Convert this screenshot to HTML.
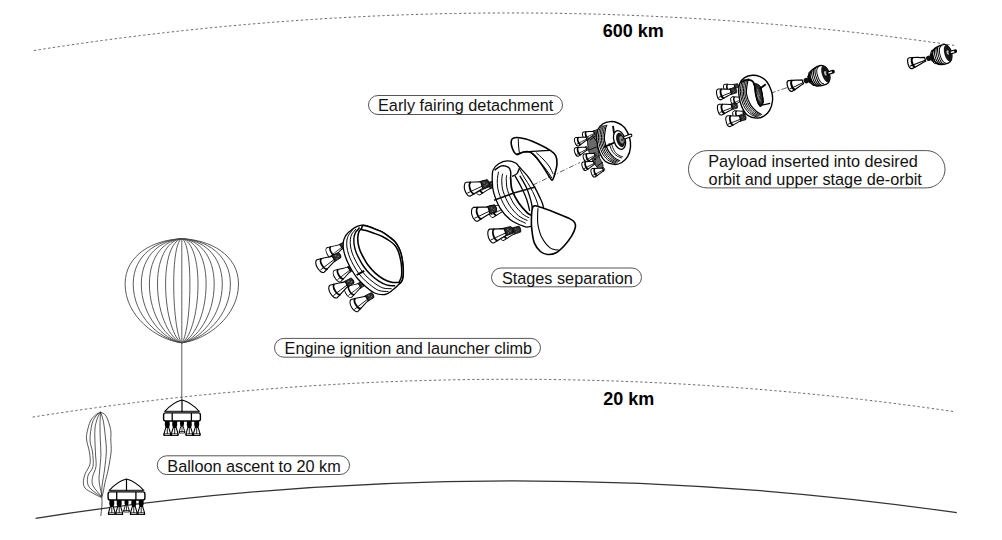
<!DOCTYPE html>
<html><head><meta charset="utf-8">
<style>
html,body{margin:0;padding:0;background:#fff;overflow:hidden;width:1002px;height:540px;}
svg{display:block;}
.t{font-family:"Liberation Sans",sans-serif;font-size:16.25px;fill:#111;}
.b{font-family:"Liberation Sans",sans-serif;font-size:18px;font-weight:bold;fill:#000;}
.box{fill:none;stroke:#555;stroke-width:1;}
.dash{fill:none;stroke:#666;stroke-width:1;stroke-dasharray:2.4 2.4;}
.ln{fill:none;stroke:#000;stroke-width:1;stroke-linejoin:round;stroke-linecap:round;}
</style></head><body>
<svg width="1002" height="540" viewBox="0 0 1002 540">
<rect width="1002" height="540" fill="#fff"/>
<path class="dash" d="M33.8,50.54 A3047.9,3047.9 0 0 1 956.7,45.74"/>
<path class="dash" d="M32.6,417.10 A3046.4,3046.4 0 0 1 954.4,411.66"/>
<path fill="none" stroke="#333" stroke-width="1.25" d="M35.6,518.28 A3093.8,3093.8 0 0 1 956.8,512.70"/>
<g fill="none" stroke="#4a4a4a" stroke-width="0.9">
<path d="M181.8,238.8 C153.45,239.60 125.10,254.80 125.10,284 C125.10,316.00 156.29,339.80 181.8,342.8"/>
<path d="M181.8,238.8 C157.50,239.60 133.20,254.80 133.20,284 C133.20,316.00 159.93,339.80 181.8,342.8"/>
<path d="M181.8,238.8 C161.55,239.60 141.30,254.80 141.30,284 C141.30,316.00 163.58,339.80 181.8,342.8"/>
<path d="M181.8,238.8 C165.60,239.60 149.40,254.80 149.40,284 C149.40,316.00 167.22,339.80 181.8,342.8"/>
<path d="M181.8,238.8 C169.65,239.60 157.50,254.80 157.50,284 C157.50,316.00 170.87,339.80 181.8,342.8"/>
<path d="M181.8,238.8 C173.70,239.60 165.60,254.80 165.60,284 C165.60,316.00 174.51,339.80 181.8,342.8"/>
<path d="M181.8,238.8 C177.75,239.60 173.70,254.80 173.70,284 C173.70,316.00 178.16,339.80 181.8,342.8"/>
<path d="M181.8,238.8 C181.80,239.60 181.80,254.80 181.80,284 C181.80,316.00 181.80,339.80 181.8,342.8"/>
<path d="M181.8,238.8 C185.85,239.60 189.90,254.80 189.90,284 C189.90,316.00 185.45,339.80 181.8,342.8"/>
<path d="M181.8,238.8 C189.90,239.60 198.00,254.80 198.00,284 C198.00,316.00 189.09,339.80 181.8,342.8"/>
<path d="M181.8,238.8 C193.95,239.60 206.10,254.80 206.10,284 C206.10,316.00 192.74,339.80 181.8,342.8"/>
<path d="M181.8,238.8 C198.00,239.60 214.20,254.80 214.20,284 C214.20,316.00 196.38,339.80 181.8,342.8"/>
<path d="M181.8,238.8 C202.05,239.60 222.30,254.80 222.30,284 C222.30,316.00 200.03,339.80 181.8,342.8"/>
<path d="M181.8,238.8 C206.10,239.60 230.40,254.80 230.40,284 C230.40,316.00 203.67,339.80 181.8,342.8"/>
<path d="M181.8,238.8 C210.15,239.60 238.50,254.80 238.50,284 C238.50,316.00 207.31,339.80 181.8,342.8"/>
<path d="M181.8,342.8 V400" stroke-width="0.9"/>
</g>
<g fill="none" stroke="#222" stroke-width="0.75">
<path d="M100.6,412.1 C99.8,412.6 97.2,413.5 95.5,415.0 C93.8,416.5 91.9,418.2 90.5,421.0 C89.1,423.8 87.9,428.5 87.2,431.7 C86.5,434.9 86.2,436.6 86.6,440.0 C87.0,443.4 88.8,448.0 89.4,452.0 C90.0,456.0 90.7,460.4 90.0,464.0 C89.3,467.6 86.3,470.7 85.2,473.7 C84.1,476.7 83.4,479.8 83.4,482.2 C83.4,484.6 83.7,486.4 85.2,488.2 C86.7,490.0 89.8,491.4 92.5,493.0 C95.2,494.6 100.0,496.8 101.5,497.5"/>
<path d="M100.6,412.1 C99.8,412.8 97.4,414.0 96.0,416.0 C94.6,418.0 93.0,420.0 92.0,424.0 C91.0,428.0 89.9,435.3 90.0,440.0 C90.1,444.7 92.0,447.6 92.5,452.0 C93.0,456.4 93.7,462.7 93.0,466.5 C92.3,470.3 89.1,472.2 88.2,475.0 C87.3,477.8 87.1,481.0 87.6,483.4 C88.1,485.8 89.0,487.1 91.3,489.4 C93.6,491.7 99.8,495.7 101.5,497.0"/>
<path d="M100.6,412.1 C100.1,413.1 98.4,415.4 97.5,418.0 C96.6,420.6 95.4,424.3 95.0,428.0 C94.6,431.7 94.8,435.7 94.9,440.0 C95.0,444.3 95.3,449.6 95.5,454.0 C95.7,458.4 96.5,462.6 96.0,466.5 C95.5,470.4 93.0,474.1 92.5,477.3 C92.0,480.5 91.5,482.6 93.0,485.8 C94.5,489.0 100.1,494.7 101.5,496.5"/>
<path d="M100.6,412.1 C100.5,414.2 100.0,420.4 100.0,425.0 C100.0,429.6 100.1,435.1 100.3,440.0 C100.5,444.9 101.0,449.5 100.9,454.5 C100.8,459.5 100.0,465.6 99.7,470.0 C99.4,474.4 98.8,477.0 99.1,481.0 C99.4,485.0 101.0,491.6 101.5,494.2 C102.0,496.8 101.8,496.1 101.8,496.5"/>
<path d="M100.6,412.1 C101.1,413.8 102.7,417.4 103.5,422.0 C104.3,426.6 105.2,435.0 105.7,440.0 C106.2,445.0 106.5,447.0 106.3,452.0 C106.1,457.0 105.2,464.4 104.5,470.0 C103.8,475.6 102.5,481.4 102.1,485.8 C101.6,490.2 101.8,494.7 101.8,496.5"/>
<path d="M100.6,412.1 C101.5,412.8 104.4,413.2 106.1,416.1 C107.8,419.0 109.8,425.4 110.6,429.4 C111.4,433.4 110.7,436.2 110.8,440.0 C110.9,443.8 111.5,447.0 111.1,452.0 C110.6,457.0 109.1,465.0 108.1,470.0 C107.1,475.0 105.9,478.6 105.1,482.2 C104.3,485.8 103.8,489.3 103.3,491.8 C102.8,494.3 102.0,496.1 101.8,497.0"/>
<path d="M101.8,497 C102.5,503 101.5,510 100.8,516"/>
</g>
<defs>
<g id="nz">
<path d="M-2.3,0 L2.3,0 L2.5,4 Q2.4,7.2 0,7.6 Q-2.4,7.2 -2.5,4Z" fill="#000"/>
<path d="M-1.4,7 L-3.5,14 H3.5 L1.4,7 Z" fill="#fff" stroke="#000" stroke-width="1.1" stroke-linejoin="round"/>
<path d="M0,7.5 V13.5" stroke="#000" stroke-width="0.9"/>
<rect x="-3.8" y="13.2" width="7.6" height="2.4" fill="#000"/>
<rect x="-2.6" y="13.9" width="5.2" height="0.8" fill="#fff"/>
</g>
<g id="gond">
<use href="#nz" x="-14.7" y="20.4"/>
<use href="#nz" x="14.7" y="20.4"/>
<g transform="translate(0,20.6) scale(0.82)"><use href="#nz"/></g>
<use href="#nz" x="-7.3" y="20.4"/>
<use href="#nz" x="7.3" y="20.4"/>
<path d="M-16.9,11.2 Q-9,2.2 0,0 Q9,2.2 16.9,11.2" fill="#fff" stroke="#000" stroke-width="1.1"/>
<path d="M0,0 V12" stroke="#000" stroke-width="1.2"/>
<path d="M-17.8,11.3 H17.8" stroke="#000" stroke-width="1.0"/>
<rect x="-18.4" y="12.9" width="36.8" height="8.1" rx="2" fill="#fff" stroke="#000" stroke-width="1.4"/>
<path d="M-9.8,12.9 V21 M9.4,12.9 V21" stroke="#000" stroke-width="1.3"/>
</g>
</defs>
<use href="#gond" x="182" y="400"/>
<use href="#gond" x="126.5" y="479"/>
<g transform="translate(330.0,253.0) rotate(-30.0) scale(0.85)"><path d="M14,-3.3000000000000003 L22,-2.9000000000000004 Q24,0 22,2.9000000000000004 L14,3.3000000000000003Z" fill="#2a2a2a" stroke="#000" stroke-width="0.8"/><path d="M17.4,-1.8 l1.5,1 M19.4,1.2 l1.5,-1 M17.4,1.8 l1,0.4" stroke="#bbb" stroke-width="0.6"/><path d="M0,-7.2 C5.625,-6 11.25,-3.5 15,-2.7 L15,2.7 C11.25,3.5 5.625,6 0,7.2 A3.6,7.2 0 0 1 0,-7.2Z" fill="#fff" stroke="#000" stroke-width="1.10" stroke-linejoin="round"/><path d="M4.5,-5.9 A2.8,5.9 0 0 0 4.5,5.9" fill="none" stroke="#000" stroke-width="1.87"/><path d="M-2.2,3.5 C4,2.7 9.0,1.8 15,1.2" fill="none" stroke="#000" stroke-width="0.83"/></g>
<g transform="translate(337.5,276.0) rotate(-30.0) scale(0.90)"><path d="M14,-3.3000000000000003 L22,-2.9000000000000004 Q24,0 22,2.9000000000000004 L14,3.3000000000000003Z" fill="#2a2a2a" stroke="#000" stroke-width="0.8"/><path d="M17.4,-1.8 l1.5,1 M19.4,1.2 l1.5,-1 M17.4,1.8 l1,0.4" stroke="#bbb" stroke-width="0.6"/><path d="M0,-7.2 C5.625,-6 11.25,-3.5 15,-2.7 L15,2.7 C11.25,3.5 5.625,6 0,7.2 A3.6,7.2 0 0 1 0,-7.2Z" fill="#fff" stroke="#000" stroke-width="1.10" stroke-linejoin="round"/><path d="M4.5,-5.9 A2.8,5.9 0 0 0 4.5,5.9" fill="none" stroke="#000" stroke-width="1.87"/><path d="M-2.2,3.5 C4,2.7 9.0,1.8 15,1.2" fill="none" stroke="#000" stroke-width="0.83"/></g>
<g transform="translate(348.5,292.0) rotate(-30.0) scale(0.85)"><path d="M14,-3.3000000000000003 L22,-2.9000000000000004 Q24,0 22,2.9000000000000004 L14,3.3000000000000003Z" fill="#2a2a2a" stroke="#000" stroke-width="0.8"/><path d="M17.4,-1.8 l1.5,1 M19.4,1.2 l1.5,-1 M17.4,1.8 l1,0.4" stroke="#bbb" stroke-width="0.6"/><path d="M0,-7.2 C5.625,-6 11.25,-3.5 15,-2.7 L15,2.7 C11.25,3.5 5.625,6 0,7.2 A3.6,7.2 0 0 1 0,-7.2Z" fill="#fff" stroke="#000" stroke-width="1.10" stroke-linejoin="round"/><path d="M4.5,-5.9 A2.8,5.9 0 0 0 4.5,5.9" fill="none" stroke="#000" stroke-width="1.87"/><path d="M-2.2,3.5 C4,2.7 9.0,1.8 15,1.2" fill="none" stroke="#000" stroke-width="0.83"/></g>
<g transform="translate(320.5,266.0) rotate(-30.0) scale(1.00)"><path d="M14,-3.3000000000000003 L22,-2.9000000000000004 Q24,0 22,2.9000000000000004 L14,3.3000000000000003Z" fill="#2a2a2a" stroke="#000" stroke-width="0.8"/><path d="M17.4,-1.8 l1.5,1 M19.4,1.2 l1.5,-1 M17.4,1.8 l1,0.4" stroke="#bbb" stroke-width="0.6"/><path d="M0,-7.2 C5.625,-6 11.25,-3.5 15,-2.7 L15,2.7 C11.25,3.5 5.625,6 0,7.2 A3.6,7.2 0 0 1 0,-7.2Z" fill="#fff" stroke="#000" stroke-width="1.10" stroke-linejoin="round"/><path d="M4.5,-5.9 A2.8,5.9 0 0 0 4.5,5.9" fill="none" stroke="#000" stroke-width="1.87"/><path d="M-2.2,3.5 C4,2.7 9.0,1.8 15,1.2" fill="none" stroke="#000" stroke-width="0.83"/></g>
<g transform="translate(333.5,291.5) rotate(-30.0) scale(1.00)"><path d="M14,-3.3000000000000003 L22,-2.9000000000000004 Q24,0 22,2.9000000000000004 L14,3.3000000000000003Z" fill="#2a2a2a" stroke="#000" stroke-width="0.8"/><path d="M17.4,-1.8 l1.5,1 M19.4,1.2 l1.5,-1 M17.4,1.8 l1,0.4" stroke="#bbb" stroke-width="0.6"/><path d="M0,-7.2 C5.625,-6 11.25,-3.5 15,-2.7 L15,2.7 C11.25,3.5 5.625,6 0,7.2 A3.6,7.2 0 0 1 0,-7.2Z" fill="#fff" stroke="#000" stroke-width="1.10" stroke-linejoin="round"/><path d="M4.5,-5.9 A2.8,5.9 0 0 0 4.5,5.9" fill="none" stroke="#000" stroke-width="1.87"/><path d="M-2.2,3.5 C4,2.7 9.0,1.8 15,1.2" fill="none" stroke="#000" stroke-width="0.83"/></g>
<g transform="translate(354.5,305.5) rotate(-30.0) scale(0.95)"><path d="M14,-3.3000000000000003 L22,-2.9000000000000004 Q24,0 22,2.9000000000000004 L14,3.3000000000000003Z" fill="#2a2a2a" stroke="#000" stroke-width="0.8"/><path d="M17.4,-1.8 l1.5,1 M19.4,1.2 l1.5,-1 M17.4,1.8 l1,0.4" stroke="#bbb" stroke-width="0.6"/><path d="M0,-7.2 C5.625,-6 11.25,-3.5 15,-2.7 L15,2.7 C11.25,3.5 5.625,6 0,7.2 A3.6,7.2 0 0 1 0,-7.2Z" fill="#fff" stroke="#000" stroke-width="1.10" stroke-linejoin="round"/><path d="M4.5,-5.9 A2.8,5.9 0 0 0 4.5,5.9" fill="none" stroke="#000" stroke-width="1.87"/><path d="M-2.2,3.5 C4,2.7 9.0,1.8 15,1.2" fill="none" stroke="#000" stroke-width="0.83"/></g>
<path d="M347.0,234.0 C346.4,234.7 345.8,235.3 345.2,236.5 C344.6,237.7 343.8,239.1 343.5,241.0 C343.2,242.9 343.1,245.6 343.3,248.0 C343.6,250.4 344.2,253.0 345.0,255.5 C345.8,258.0 346.8,260.5 348.0,263.0 C349.2,265.5 350.4,267.9 352.0,270.5 C353.6,273.1 355.3,275.9 357.5,278.5 C359.7,281.1 362.2,283.6 365.0,286.0 C367.8,288.4 371.2,291.6 374.5,293.0 C377.8,294.4 382.1,294.9 385.0,294.5 C387.9,294.1 389.2,292.7 391.7,290.8 C394.2,288.9 398.2,285.2 400.0,283.3 C401.8,281.4 401.9,281.1 402.5,279.2 C403.1,277.3 403.3,274.7 403.3,271.7 C403.3,268.7 402.9,264.0 402.5,261.0 C402.1,258.0 401.6,255.8 401.0,253.6 C400.4,251.4 399.7,249.7 398.7,247.7 C397.7,245.7 396.5,243.4 395.0,241.7 C393.5,240.0 391.9,238.9 389.8,237.3 C387.7,235.7 384.9,233.5 382.4,232.1 C379.9,230.7 377.1,230.0 375.0,229.1 C372.9,228.2 371.7,227.5 369.7,226.9 C367.7,226.3 364.6,225.7 363.1,225.4 C361.6,225.2 362.2,225.0 360.8,225.4 C359.4,225.8 356.8,226.5 354.8,227.6 C352.8,228.7 350.2,231.0 348.9,232.1 C347.6,233.2 347.6,233.3 347.0,234.0Z" fill="#fff" stroke="#000" stroke-width="1.3"/>
<path d="M359.6,227.5 C359.3,227.9 358.3,229.1 357.6,230.0 C356.9,230.9 355.9,231.5 355.3,232.9 C354.7,234.2 354.1,236.3 353.9,238.3 C353.8,240.3 353.8,242.7 354.2,245.0 C354.5,247.3 355.1,249.7 356.0,251.9 C356.8,254.2 357.8,256.2 359.1,258.6 C360.4,261.0 361.8,263.9 363.7,266.5 C365.5,269.1 367.8,271.9 370.3,274.3 C372.7,276.7 375.6,279.1 378.4,280.9 C381.2,282.7 384.2,284.4 387.1,285.2 C389.9,286.0 393.9,285.6 395.2,285.7" fill="none" stroke="#000" stroke-width="1.4"/>
<path d="M356.0,229.0 C355.6,229.4 354.6,230.5 354.0,231.4 C353.3,232.2 352.4,232.8 351.8,234.1 C351.2,235.4 350.6,237.2 350.4,239.2 C350.1,241.2 350.1,243.7 350.5,246.0 C350.8,248.4 351.4,250.8 352.2,253.1 C353.0,255.5 354.0,257.7 355.3,260.1 C356.5,262.6 357.9,265.3 359.7,267.9 C361.4,270.5 363.5,273.3 365.9,275.8 C368.3,278.2 371.0,280.6 373.8,282.6 C376.6,284.7 379.8,286.8 382.8,287.9 C385.7,288.9 390.2,288.6 391.7,288.7" fill="none" stroke="#000" stroke-width="1.0"/>
<path d="M352.5,230.5 C352.1,230.9 351.1,231.9 350.5,232.7 C349.8,233.5 349.1,234.1 348.5,235.3 C347.9,236.5 347.2,238.2 346.9,240.1 C346.7,242.1 346.6,244.6 346.9,247.0 C347.2,249.4 347.8,251.9 348.6,254.3 C349.4,256.7 350.4,259.1 351.6,261.6 C352.9,264.0 354.2,266.6 355.8,269.2 C357.5,271.8 359.4,274.6 361.7,277.1 C364.0,279.7 366.6,282.1 369.4,284.3 C372.2,286.5 375.5,289.2 378.6,290.4 C381.8,291.6 386.7,291.4 388.4,291.6" fill="none" stroke="#000" stroke-width="1.0"/>
<path d="M361.5,228.5 C360.8,229.5 359.6,230.0 359.0,231.5 C358.4,233.0 357.9,235.2 357.8,237.3 C357.7,239.4 357.8,241.7 358.2,243.9 C358.6,246.1 359.2,248.4 360.0,250.6 C360.8,252.8 361.9,254.6 363.2,257.0 C364.5,259.4 366.0,262.4 368.0,265.0 C370.0,267.6 372.4,270.5 375.0,272.8 C377.6,275.1 380.5,277.4 383.3,279.0 C386.1,280.6 389.1,281.7 391.7,282.3 C394.3,282.9 397.6,282.3 399.0,282.5 C400.4,282.7 399.4,283.9 400.0,283.3 C400.6,282.8 401.9,281.1 402.5,279.2 C403.1,277.3 403.3,274.7 403.3,271.7 C403.3,268.7 402.9,264.0 402.5,261.0 C402.1,258.0 401.6,255.8 401.0,253.6 C400.4,251.4 399.7,249.7 398.7,247.7 C397.7,245.7 396.5,243.4 395.0,241.7 C393.5,240.0 391.9,238.9 389.8,237.3 C387.7,235.7 384.9,233.5 382.4,232.1 C379.9,230.7 377.1,230.0 375.0,229.1 C372.9,228.2 371.7,227.5 369.7,226.9 C367.7,226.3 364.5,225.1 363.1,225.4 C361.7,225.7 362.2,227.5 361.5,228.5Z" fill="#fff" stroke="#000" stroke-width="1.6"/>
<path d="M361.0,229.5 C362.0,229.7 364.7,230.1 367.0,230.8 C369.3,231.5 372.4,232.7 375.0,233.6 C377.6,234.5 379.9,235.3 382.4,236.5 C384.9,237.7 387.7,239.5 389.8,241.0 C391.9,242.5 393.6,243.8 395.0,245.4 C396.4,247.0 397.1,248.5 398.0,250.6 C398.9,252.7 399.6,255.4 400.2,258.0 C400.8,260.6 401.3,263.0 401.5,266.0 C401.7,269.0 401.9,273.2 401.5,276.0 C401.1,278.8 399.4,281.4 399.0,282.5" fill="none" stroke="#000" stroke-width="1.5"/>
<path d="M356.7,275 L364.2,270.8" stroke="#000" stroke-width="2"/>
<path d="M533,185 L580,162.5" stroke="#333" stroke-width="0.8" stroke-dasharray="5 2 1 2" fill="none"/>
<g transform="translate(478.0,189.0) rotate(-17.0) scale(0.85)"><path d="M13,-4.0 L22,-3.6 Q24,0 22,3.6 L13,4.0Z" fill="#2a2a2a" stroke="#000" stroke-width="0.8"/><path d="M16.7,-1.8 l1.5,1 M18.95,1.2 l1.5,-1 M16.7,1.8 l1,0.4" stroke="#bbb" stroke-width="0.6"/><path d="M0,-7.2 C5.25,-6 10.5,-4.2 14,-3.4 L14,3.4 C10.5,4.2 5.25,6 0,7.2 A3.6,7.2 0 0 1 0,-7.2Z" fill="#fff" stroke="#000" stroke-width="1.10" stroke-linejoin="round"/><path d="M4.5,-5.9 A2.8,5.9 0 0 0 4.5,5.9" fill="none" stroke="#000" stroke-width="1.87"/><path d="M-2.2,3.5 C4,2.7 8.4,1.8 14,1.2" fill="none" stroke="#000" stroke-width="0.83"/></g>
<g transform="translate(491.5,211.5) rotate(-17.0) scale(0.85)"><path d="M13,-4.0 L22,-3.6 Q24,0 22,3.6 L13,4.0Z" fill="#2a2a2a" stroke="#000" stroke-width="0.8"/><path d="M16.7,-1.8 l1.5,1 M18.95,1.2 l1.5,-1 M16.7,1.8 l1,0.4" stroke="#bbb" stroke-width="0.6"/><path d="M0,-7.2 C5.25,-6 10.5,-4.2 14,-3.4 L14,3.4 C10.5,4.2 5.25,6 0,7.2 A3.6,7.2 0 0 1 0,-7.2Z" fill="#fff" stroke="#000" stroke-width="1.10" stroke-linejoin="round"/><path d="M4.5,-5.9 A2.8,5.9 0 0 0 4.5,5.9" fill="none" stroke="#000" stroke-width="1.87"/><path d="M-2.2,3.5 C4,2.7 8.4,1.8 14,1.2" fill="none" stroke="#000" stroke-width="0.83"/></g>
<g transform="translate(502.0,234.5) rotate(-17.0) scale(0.85)"><path d="M13,-4.0 L22,-3.6 Q24,0 22,3.6 L13,4.0Z" fill="#2a2a2a" stroke="#000" stroke-width="0.8"/><path d="M16.7,-1.8 l1.5,1 M18.95,1.2 l1.5,-1 M16.7,1.8 l1,0.4" stroke="#bbb" stroke-width="0.6"/><path d="M0,-7.2 C5.25,-6 10.5,-4.2 14,-3.4 L14,3.4 C10.5,4.2 5.25,6 0,7.2 A3.6,7.2 0 0 1 0,-7.2Z" fill="#fff" stroke="#000" stroke-width="1.10" stroke-linejoin="round"/><path d="M4.5,-5.9 A2.8,5.9 0 0 0 4.5,5.9" fill="none" stroke="#000" stroke-width="1.87"/><path d="M-2.2,3.5 C4,2.7 8.4,1.8 14,1.2" fill="none" stroke="#000" stroke-width="0.83"/></g>
<g transform="translate(468.3,189.2) rotate(-17.0) scale(1.00)"><path d="M13,-4.0 L21,-3.6 Q23,0 21,3.6 L13,4.0Z" fill="#2a2a2a" stroke="#000" stroke-width="0.8"/><path d="M16.4,-1.8 l1.5,1 M18.4,1.2 l1.5,-1 M16.4,1.8 l1,0.4" stroke="#bbb" stroke-width="0.6"/><path d="M0,-7.2 C5.25,-6 10.5,-4.2 14,-3.4 L14,3.4 C10.5,4.2 5.25,6 0,7.2 A3.6,7.2 0 0 1 0,-7.2Z" fill="#fff" stroke="#000" stroke-width="1.10" stroke-linejoin="round"/><path d="M4.5,-5.9 A2.8,5.9 0 0 0 4.5,5.9" fill="none" stroke="#000" stroke-width="1.87"/><path d="M-2.2,3.5 C4,2.7 8.4,1.8 14,1.2" fill="none" stroke="#000" stroke-width="0.83"/></g>
<g transform="translate(475.5,214.3) rotate(-17.0) scale(1.00)"><path d="M13,-4.0 L21,-3.6 Q23,0 21,3.6 L13,4.0Z" fill="#2a2a2a" stroke="#000" stroke-width="0.8"/><path d="M16.4,-1.8 l1.5,1 M18.4,1.2 l1.5,-1 M16.4,1.8 l1,0.4" stroke="#bbb" stroke-width="0.6"/><path d="M0,-7.2 C5.25,-6 10.5,-4.2 14,-3.4 L14,3.4 C10.5,4.2 5.25,6 0,7.2 A3.6,7.2 0 0 1 0,-7.2Z" fill="#fff" stroke="#000" stroke-width="1.10" stroke-linejoin="round"/><path d="M4.5,-5.9 A2.8,5.9 0 0 0 4.5,5.9" fill="none" stroke="#000" stroke-width="1.87"/><path d="M-2.2,3.5 C4,2.7 8.4,1.8 14,1.2" fill="none" stroke="#000" stroke-width="0.83"/></g>
<g transform="translate(491.8,236.0) rotate(-17.0) scale(1.00)"><path d="M13,-4.0 L21,-3.6 Q23,0 21,3.6 L13,4.0Z" fill="#2a2a2a" stroke="#000" stroke-width="0.8"/><path d="M16.4,-1.8 l1.5,1 M18.4,1.2 l1.5,-1 M16.4,1.8 l1,0.4" stroke="#bbb" stroke-width="0.6"/><path d="M0,-7.2 C5.25,-6 10.5,-4.2 14,-3.4 L14,3.4 C10.5,4.2 5.25,6 0,7.2 A3.6,7.2 0 0 1 0,-7.2Z" fill="#fff" stroke="#000" stroke-width="1.10" stroke-linejoin="round"/><path d="M4.5,-5.9 A2.8,5.9 0 0 0 4.5,5.9" fill="none" stroke="#000" stroke-width="1.87"/><path d="M-2.2,3.5 C4,2.7 8.4,1.8 14,1.2" fill="none" stroke="#000" stroke-width="0.83"/></g>
<path d="M507.1,160.9 C509.9,160.8 513.6,162.0 515.6,163.0 C517.6,164.0 517.0,164.5 519.1,166.8 C521.2,169.2 525.6,173.5 528.3,177.1 C531.0,180.7 533.3,184.9 535.3,188.4 C537.3,191.9 538.9,195.5 540.2,198.3 C541.5,201.1 542.4,202.5 543.0,205.3 C543.6,208.1 544.5,211.9 544.0,215.0 C543.5,218.1 542.4,222.1 540.0,224.0 C537.6,225.9 532.4,226.2 529.7,226.6 C527.0,227.0 527.3,227.6 524.0,226.4 C520.7,225.2 514.0,222.5 510.0,219.4 C506.0,216.3 502.8,212.6 500.1,208.1 C497.4,203.6 495.0,197.0 493.7,192.6 C492.4,188.2 492.4,185.2 492.3,181.4 C492.2,177.7 491.9,173.1 493.0,170.1 C494.1,167.1 496.3,165.2 498.7,163.7 C501.1,162.2 504.3,161.0 507.1,160.9Z" fill="#fff" stroke="#000" stroke-width="1.3"/>
<path d="M498.5,171.8 C498.3,173.4 497.3,177.7 497.3,181.1 C497.3,184.4 497.4,187.6 498.6,191.9 C499.9,196.2 502.4,202.5 505.1,206.7 C507.7,210.9 511.0,214.6 514.4,217.3 C517.9,220.1 523.9,222.3 525.8,223.3" fill="none" stroke="#000" stroke-width="1.0"/>
<path d="M502.6,173.6 C502.4,174.8 501.7,177.8 501.8,180.7 C501.9,183.6 501.8,187.1 503.1,191.2 C504.4,195.3 506.9,201.2 509.5,205.3 C512.1,209.4 515.5,213.1 518.5,215.7 C521.5,218.2 526.0,219.8 527.5,220.6" fill="none" stroke="#000" stroke-width="1.0"/>
<path d="M506.6,175.3 C506.5,176.2 506.1,177.8 506.3,180.3 C506.5,182.9 506.3,186.6 507.6,190.5 C508.8,194.4 511.4,200.0 513.9,203.9 C516.5,207.8 520.1,211.6 522.7,214.0 C525.2,216.3 528.2,217.2 529.2,217.9" fill="none" stroke="#000" stroke-width="1.0"/>
<path d="M510.6,177.1 C510.6,177.6 510.6,177.9 510.8,180.0 C511.0,182.1 510.7,186.1 512.0,189.8 C513.3,193.6 515.9,198.8 518.4,202.5 C520.9,206.2 524.7,210.2 526.8,212.3 C528.9,214.4 530.3,214.7 531.0,215.2" fill="none" stroke="#000" stroke-width="1.7"/>
<path d="M514.9,175.7 C516.0,177.6 519.2,183.0 521.2,187.0 C523.2,191.0 525.4,195.7 526.8,199.7 C528.2,203.7 529.2,209.0 529.7,210.9" fill="none" stroke="#000" stroke-width="1.3"/>
<path d="M519.8,175.7 C521.0,177.8 524.9,184.2 526.8,188.4 C528.7,192.6 530.0,197.6 531.0,201.1 C532.0,204.6 532.2,208.1 532.5,209.5" fill="none" stroke="#000" stroke-width="1.3"/>
<path d="M519.0,168.0 C519.8,169.5 522.0,173.7 524.0,177.1 C526.0,180.5 528.9,184.4 531.0,188.4 C533.1,192.4 535.4,197.4 536.7,201.0 C538.0,204.6 538.6,208.5 539.0,210.0" fill="none" stroke="#000" stroke-width="1.0"/>
<path d="M494.5,170.1 C495.7,169.4 499.2,166.4 501.5,165.9 C503.8,165.4 507.0,166.4 508.5,167.3 C510.0,168.2 510.2,169.9 510.6,171.5 C511.0,173.1 510.6,176.2 510.6,177.1" fill="none" stroke="#000" stroke-width="1.4"/>
<path d="M519.1,168.7 C518.8,169.5 518.2,172.3 517.0,173.6 C515.8,174.9 512.8,175.9 512.0,176.4" fill="none" stroke="#000" stroke-width="1.4"/>
<path d="M494,200.3 L514.6,192.8 L535.4,186.9" stroke="#111" stroke-width="1.6" fill="none"/>
<path d="M511.7,139.7 C512.5,137.9 514.5,137.6 516.9,137.5 C519.3,137.4 522.2,138.0 525.9,139.1 C529.6,140.2 534.8,142.4 538.9,144.3 C543.0,146.2 547.8,148.8 550.6,150.7 C553.4,152.6 554.7,153.7 555.8,155.9 C556.9,158.1 557.1,160.9 557.0,163.7 C556.9,166.5 555.9,170.1 555.1,172.8 C554.4,175.5 553.5,179.2 552.5,179.9 C551.5,180.6 550.9,179.0 549.3,176.7 C547.7,174.4 545.2,169.8 542.8,166.3 C540.4,162.8 537.2,158.3 535.0,155.9 C532.8,153.5 531.8,152.7 529.8,152.0 C527.8,151.3 525.4,151.6 523.3,152.0 C521.1,152.4 518.7,155.2 516.9,154.6 C515.1,154.0 513.2,150.7 512.3,148.2 C511.4,145.7 510.9,141.5 511.7,139.7Z" fill="#fff" stroke="#000" stroke-width="1.6"/>
<path d="M518.2,138.4 C518.3,139.7 518.4,143.5 518.6,146.0 C518.8,148.5 519.3,152.1 519.4,153.3" fill="none" stroke="#000" stroke-width="1.0"/>
<path d="M516.9,154.0 C518.1,153.7 521.4,152.4 524.0,152.0 C526.6,151.6 529.6,151.6 532.4,151.4 C535.2,151.2 538.0,151.0 541.0,150.8 C544.0,150.7 549.0,150.6 550.6,150.5" fill="none" stroke="#000" stroke-width="1.2"/>
<path d="M531.1,152.7 C532.2,153.9 535.7,157.4 538.0,160.0 C540.3,162.6 542.7,165.0 545.0,168.0 C547.3,171.0 550.8,176.3 551.9,178.0" fill="none" stroke="#000" stroke-width="1.0"/>
<path d="M536.3,152.7 C537.4,153.8 540.9,156.8 543.0,159.0 C545.1,161.2 547.3,163.5 549.0,166.0 C550.7,168.5 552.5,172.8 553.2,174.1" fill="none" stroke="#000" stroke-width="1.0"/>
<path d="M533.2,206.4 C534.9,204.5 537.8,206.5 541.6,207.6 C545.4,208.7 551.3,211.1 556.1,213.0 C560.9,214.9 567.4,217.5 570.5,219.1 C573.6,220.7 573.9,221.3 574.7,222.7 C575.5,224.1 575.8,225.3 575.3,227.5 C574.8,229.7 573.5,232.9 571.7,235.9 C569.9,238.9 567.1,242.7 564.5,245.5 C561.9,248.3 558.9,251.2 556.1,252.7 C553.3,254.2 550.3,254.7 547.7,254.5 C545.1,254.3 542.6,253.4 540.4,251.5 C538.2,249.6 535.8,246.5 534.4,243.1 C533.0,239.7 532.5,235.1 532.0,231.1 C531.5,227.1 531.2,223.2 531.4,219.1 C531.6,215.0 531.5,208.3 533.2,206.4Z" fill="#fff" stroke="#000" stroke-width="1.6"/>
<path d="M538.0,208.2 C537.9,209.5 537.6,213.2 537.6,216.0 C537.6,218.8 537.3,221.6 538.0,225.1 C538.7,228.6 539.6,233.3 541.6,237.1 C543.6,240.9 547.1,245.7 550.1,247.9 C553.1,250.1 558.1,249.9 559.7,250.3" fill="none" stroke="#000" stroke-width="1.1"/>
<path d="M588.0,136.0 C589.2,132.3 594.2,130.8 596.0,130.0 C597.8,129.2 598.7,129.0 599.0,131.0 C599.3,133.0 598.0,137.8 598.0,142.0 C598.0,146.2 598.2,152.2 599.0,156.0 C599.8,159.8 602.7,162.8 603.0,165.0 C603.3,167.2 602.2,168.8 601.0,169.0 C599.8,169.2 598.0,168.8 596.0,166.0 C594.0,163.2 590.3,157.0 589.0,152.0 C587.7,147.0 586.8,139.7 588.0,136.0Z" fill="#6a6a6a" stroke="#000" stroke-width="0.8"/>
<path d="M590,140 L598,134 M589,150 L599,146 M594,160 L601,154 M596,167 L603,162 M592,135 L597,142 M590,155 L596,160" stroke="#000" stroke-width="0.9"/>
<g transform="translate(585.0,136.0) rotate(-20.0) scale(0.60)"><path d="M15,-3.2 L18,-2.8000000000000003 Q20,0 18,2.8000000000000003 L15,3.2Z" fill="#2a2a2a" stroke="#000" stroke-width="0.8"/><path d="M16.9,-1.8 l1.5,1 M17.65,1.2 l1.5,-1 M16.9,1.8 l1,0.4" stroke="#bbb" stroke-width="0.6"/><path d="M0,-7.2 C6.0,-6 12.0,-3.4000000000000004 16,-2.6 L16,2.6 C12.0,3.4000000000000004 6.0,6 0,7.2 A3.6,7.2 0 0 1 0,-7.2Z" fill="#fff" stroke="#000" stroke-width="1.60" stroke-linejoin="round"/><path d="M4.5,-5.9 A2.8,5.9 0 0 0 4.5,5.9" fill="none" stroke="#000" stroke-width="2.72"/><path d="M-2.2,3.5 C4,2.7 9.6,1.8 16,1.2" fill="none" stroke="#000" stroke-width="1.20"/></g>
<g transform="translate(585.7,158.0) rotate(-20.0) scale(0.60)"><path d="M15,-3.2 L18,-2.8000000000000003 Q20,0 18,2.8000000000000003 L15,3.2Z" fill="#2a2a2a" stroke="#000" stroke-width="0.8"/><path d="M16.9,-1.8 l1.5,1 M17.65,1.2 l1.5,-1 M16.9,1.8 l1,0.4" stroke="#bbb" stroke-width="0.6"/><path d="M0,-7.2 C6.0,-6 12.0,-3.4000000000000004 16,-2.6 L16,2.6 C12.0,3.4000000000000004 6.0,6 0,7.2 A3.6,7.2 0 0 1 0,-7.2Z" fill="#fff" stroke="#000" stroke-width="1.60" stroke-linejoin="round"/><path d="M4.5,-5.9 A2.8,5.9 0 0 0 4.5,5.9" fill="none" stroke="#000" stroke-width="2.72"/><path d="M-2.2,3.5 C4,2.7 9.6,1.8 16,1.2" fill="none" stroke="#000" stroke-width="1.20"/></g>
<g transform="translate(593.6,172.8) rotate(-20.0) scale(0.62)"><path d="M15,-3.2 L18,-2.8000000000000003 Q20,0 18,2.8000000000000003 L15,3.2Z" fill="#2a2a2a" stroke="#000" stroke-width="0.8"/><path d="M16.9,-1.8 l1.5,1 M17.65,1.2 l1.5,-1 M16.9,1.8 l1,0.4" stroke="#bbb" stroke-width="0.6"/><path d="M0,-7.2 C6.0,-6 12.0,-3.4000000000000004 16,-2.6 L16,2.6 C12.0,3.4000000000000004 6.0,6 0,7.2 A3.6,7.2 0 0 1 0,-7.2Z" fill="#fff" stroke="#000" stroke-width="1.60" stroke-linejoin="round"/><path d="M4.5,-5.9 A2.8,5.9 0 0 0 4.5,5.9" fill="none" stroke="#000" stroke-width="2.72"/><path d="M-2.2,3.5 C4,2.7 9.6,1.8 16,1.2" fill="none" stroke="#000" stroke-width="1.20"/></g>
<g transform="translate(577.1,141.8) rotate(-20.0) scale(0.62)"><path d="M15,-3.2 L18,-2.8000000000000003 Q20,0 18,2.8000000000000003 L15,3.2Z" fill="#2a2a2a" stroke="#000" stroke-width="0.8"/><path d="M16.9,-1.8 l1.5,1 M17.65,1.2 l1.5,-1 M16.9,1.8 l1,0.4" stroke="#bbb" stroke-width="0.6"/><path d="M0,-7.2 C6.0,-6 12.0,-3.4000000000000004 16,-2.6 L16,2.6 C12.0,3.4000000000000004 6.0,6 0,7.2 A3.6,7.2 0 0 1 0,-7.2Z" fill="#fff" stroke="#000" stroke-width="1.60" stroke-linejoin="round"/><path d="M4.5,-5.9 A2.8,5.9 0 0 0 4.5,5.9" fill="none" stroke="#000" stroke-width="2.72"/><path d="M-2.2,3.5 C4,2.7 9.6,1.8 16,1.2" fill="none" stroke="#000" stroke-width="1.20"/></g>
<g transform="translate(577.0,152.0) rotate(-20.0) scale(0.62)"><path d="M15,-3.2 L18,-2.8000000000000003 Q20,0 18,2.8000000000000003 L15,3.2Z" fill="#2a2a2a" stroke="#000" stroke-width="0.8"/><path d="M16.9,-1.8 l1.5,1 M17.65,1.2 l1.5,-1 M16.9,1.8 l1,0.4" stroke="#bbb" stroke-width="0.6"/><path d="M0,-7.2 C6.0,-6 12.0,-3.4000000000000004 16,-2.6 L16,2.6 C12.0,3.4000000000000004 6.0,6 0,7.2 A3.6,7.2 0 0 1 0,-7.2Z" fill="#fff" stroke="#000" stroke-width="1.60" stroke-linejoin="round"/><path d="M4.5,-5.9 A2.8,5.9 0 0 0 4.5,5.9" fill="none" stroke="#000" stroke-width="2.72"/><path d="M-2.2,3.5 C4,2.7 9.6,1.8 16,1.2" fill="none" stroke="#000" stroke-width="1.20"/></g>
<g transform="translate(584.5,166.2) rotate(-20.0) scale(0.62)"><path d="M15,-3.2 L18,-2.8000000000000003 Q20,0 18,2.8000000000000003 L15,3.2Z" fill="#2a2a2a" stroke="#000" stroke-width="0.8"/><path d="M16.9,-1.8 l1.5,1 M17.65,1.2 l1.5,-1 M16.9,1.8 l1,0.4" stroke="#bbb" stroke-width="0.6"/><path d="M0,-7.2 C6.0,-6 12.0,-3.4000000000000004 16,-2.6 L16,2.6 C12.0,3.4000000000000004 6.0,6 0,7.2 A3.6,7.2 0 0 1 0,-7.2Z" fill="#fff" stroke="#000" stroke-width="1.60" stroke-linejoin="round"/><path d="M4.5,-5.9 A2.8,5.9 0 0 0 4.5,5.9" fill="none" stroke="#000" stroke-width="2.72"/><path d="M-2.2,3.5 C4,2.7 9.6,1.8 16,1.2" fill="none" stroke="#000" stroke-width="1.20"/></g>
<g transform="translate(-142,46.3)">
<path d="M752.3,75.3 C754.9,75.1 757.6,75.7 760.0,76.7 C762.4,77.7 764.8,79.1 766.7,81.5 C768.6,83.9 770.5,88.0 771.5,91.2 C772.5,94.4 772.8,97.6 772.5,100.8 C772.2,104.0 771.1,107.8 769.6,110.4 C768.1,113.0 766.0,114.9 763.8,116.2 C761.6,117.5 758.9,118.3 756.2,118.1 C753.5,117.9 749.9,117.1 747.5,115.2 C745.1,113.3 743.2,110.0 741.7,106.5 C740.2,103.0 739.1,97.8 738.8,94.0 C738.5,90.2 738.8,86.2 739.8,83.5 C740.8,80.8 742.5,79.1 744.6,77.7 C746.7,76.3 749.7,75.5 752.3,75.3Z" fill="#fff" stroke="#000" stroke-width="1.4"/>
<path d="M749.0,78.5 C748.8,79.2 747.9,79.9 747.5,82.5 C747.1,85.1 746.0,90.3 746.5,94.0 C747.0,97.7 748.8,101.7 750.4,104.6 C752.0,107.5 754.3,109.6 756.2,111.3 C758.1,113.0 761.0,114.0 762.0,114.6" fill="none" stroke="#000" stroke-width="1.2"/>
<path d="M747.7,78.7 C747.4,79.4 746.4,80.4 746.0,82.9 C745.5,85.5 744.5,90.3 745.0,94.0 C745.5,97.7 747.1,101.9 748.7,104.9 C750.3,107.9 752.5,110.1 754.6,111.8 C756.6,113.6 759.8,114.7 760.8,115.3" fill="none" stroke="#000" stroke-width="1.0"/>
<path d="M746.4,78.9 C746.1,79.6 744.9,80.8 744.4,83.3 C743.9,85.8 743.1,90.4 743.5,94.0 C743.9,97.6 745.5,102.1 747.0,105.2 C748.6,108.2 750.8,110.6 752.9,112.4 C755.0,114.2 758.6,115.4 759.7,116.0" fill="none" stroke="#000" stroke-width="1.0"/>
<path d="M745.1,79.1 C744.7,79.9 743.4,81.2 742.9,83.7 C742.4,86.2 741.6,90.4 742.0,94.0 C742.4,97.6 743.8,102.3 745.4,105.4 C746.9,108.6 749.1,111.0 751.3,112.9 C753.5,114.8 757.3,116.1 758.5,116.7" fill="none" stroke="#000" stroke-width="1.0"/>
<path d="M743.8,79.3 C743.4,80.1 741.9,81.7 741.3,84.1 C740.8,86.6 740.1,90.4 740.5,94.0 C740.9,97.6 742.2,102.5 743.7,105.7 C745.2,109.0 747.4,111.5 749.6,113.5 C751.9,115.4 756.1,116.7 757.4,117.4" fill="none" stroke="#000" stroke-width="1.0"/>
<path d="M751.0,96.7 C751.5,98.1 752.9,102.8 754.3,105.0 C755.7,107.2 757.6,108.7 759.2,109.8 C760.9,110.9 763.2,111.4 764.0,111.8" fill="none" stroke="#000" stroke-width="0.9"/>
<path d="M753.4,97.4 C753.9,98.7 755.3,103.0 756.5,105.0 C757.8,107.0 759.6,108.2 761.0,109.1 C762.4,110.0 764.4,110.3 765.1,110.5" fill="none" stroke="#000" stroke-width="0.9"/>
<ellipse cx="761.5" cy="93.7" rx="5.6" ry="9.6" transform="rotate(-18 761.5 93.7)" fill="#fff" stroke="#000" stroke-width="1.3"/>
<ellipse cx="762.5" cy="93.7" rx="4" ry="7.4" transform="rotate(-18 762.5 93.7)" fill="#151515"/>
<ellipse cx="763.5" cy="93.5" rx="2" ry="3.8" transform="rotate(-18 763.5 93.5)" fill="#8a8a8a"/>
<circle cx="764" cy="93.5" r="0.9" fill="#111"/>
<path d="M755,79.5 L756,87" stroke="#000" stroke-width="1.8"/>
<path d="M746,100.8 L757,96" stroke="#000" stroke-width="1.8"/>
</g>
<path d="M625,137.5 L630.5,135.5" stroke="#000" stroke-width="3.8" stroke-linecap="round"/><path d="M625,137.5 L630.5,135.5" stroke="#fff" stroke-width="1.6" stroke-linecap="round"/>
<path d="M770,93.5 L788,87.3" stroke="#444" stroke-width="0.8" stroke-dasharray="6 2 2 2" fill="none"/>
<g transform="translate(726.0,88.5) rotate(-14.0) scale(0.62)"><path d="M13,-3.6 L20,-3.2 Q22,0 20,3.2 L13,3.6Z" fill="#2a2a2a" stroke="#000" stroke-width="0.8"/><path d="M16.1,-1.8 l1.5,1 M17.85,1.2 l1.5,-1 M16.1,1.8 l1,0.4" stroke="#bbb" stroke-width="0.6"/><path d="M0,-7.2 C5.25,-6 10.5,-3.8 14,-3.0 L14,3.0 C10.5,3.8 5.25,6 0,7.2 A3.6,7.2 0 0 1 0,-7.2Z" fill="#fff" stroke="#000" stroke-width="1.50" stroke-linejoin="round"/><path d="M4.5,-5.9 A2.8,5.9 0 0 0 4.5,5.9" fill="none" stroke="#000" stroke-width="2.55"/><path d="M-2.2,3.5 C4,2.7 8.4,1.8 14,1.2" fill="none" stroke="#000" stroke-width="1.12"/></g>
<g transform="translate(733.0,101.0) rotate(-14.0) scale(0.60)"><path d="M13,-3.6 L19,-3.2 Q21,0 19,3.2 L13,3.6Z" fill="#2a2a2a" stroke="#000" stroke-width="0.8"/><path d="M15.8,-1.8 l1.5,1 M17.3,1.2 l1.5,-1 M15.8,1.8 l1,0.4" stroke="#bbb" stroke-width="0.6"/><path d="M0,-7.2 C5.25,-6 10.5,-3.8 14,-3.0 L14,3.0 C10.5,3.8 5.25,6 0,7.2 A3.6,7.2 0 0 1 0,-7.2Z" fill="#fff" stroke="#000" stroke-width="1.50" stroke-linejoin="round"/><path d="M4.5,-5.9 A2.8,5.9 0 0 0 4.5,5.9" fill="none" stroke="#000" stroke-width="2.55"/><path d="M-2.2,3.5 C4,2.7 8.4,1.8 14,1.2" fill="none" stroke="#000" stroke-width="1.12"/></g>
<g transform="translate(735.0,115.0) rotate(-14.0) scale(0.60)"><path d="M13,-3.6 L19,-3.2 Q21,0 19,3.2 L13,3.6Z" fill="#2a2a2a" stroke="#000" stroke-width="0.8"/><path d="M15.8,-1.8 l1.5,1 M17.3,1.2 l1.5,-1 M15.8,1.8 l1,0.4" stroke="#bbb" stroke-width="0.6"/><path d="M0,-7.2 C5.25,-6 10.5,-3.8 14,-3.0 L14,3.0 C10.5,3.8 5.25,6 0,7.2 A3.6,7.2 0 0 1 0,-7.2Z" fill="#fff" stroke="#000" stroke-width="1.50" stroke-linejoin="round"/><path d="M4.5,-5.9 A2.8,5.9 0 0 0 4.5,5.9" fill="none" stroke="#000" stroke-width="2.55"/><path d="M-2.2,3.5 C4,2.7 8.4,1.8 14,1.2" fill="none" stroke="#000" stroke-width="1.12"/></g>
<g transform="translate(719.6,94.4) rotate(-14.0) scale(0.77)"><path d="M14,-3.8000000000000003 L22,-3.4000000000000004 Q24,0 22,3.4000000000000004 L14,3.8000000000000003Z" fill="#2a2a2a" stroke="#000" stroke-width="0.8"/><path d="M17.4,-1.8 l1.5,1 M19.4,1.2 l1.5,-1 M17.4,1.8 l1,0.4" stroke="#bbb" stroke-width="0.6"/><path d="M0,-7.2 C5.625,-6 11.25,-4.0 15,-3.2 L15,3.2 C11.25,4.0 5.625,6 0,7.2 A3.6,7.2 0 0 1 0,-7.2Z" fill="#fff" stroke="#000" stroke-width="1.40" stroke-linejoin="round"/><path d="M4.5,-5.9 A2.8,5.9 0 0 0 4.5,5.9" fill="none" stroke="#000" stroke-width="2.38"/><path d="M-2.2,3.5 C4,2.7 9.0,1.8 15,1.2" fill="none" stroke="#000" stroke-width="1.05"/></g>
<g transform="translate(720.5,109.6) rotate(-14.0) scale(0.77)"><path d="M14,-3.8000000000000003 L22,-3.4000000000000004 Q24,0 22,3.4000000000000004 L14,3.8000000000000003Z" fill="#2a2a2a" stroke="#000" stroke-width="0.8"/><path d="M17.4,-1.8 l1.5,1 M19.4,1.2 l1.5,-1 M17.4,1.8 l1,0.4" stroke="#bbb" stroke-width="0.6"/><path d="M0,-7.2 C5.625,-6 11.25,-4.0 15,-3.2 L15,3.2 C11.25,4.0 5.625,6 0,7.2 A3.6,7.2 0 0 1 0,-7.2Z" fill="#fff" stroke="#000" stroke-width="1.40" stroke-linejoin="round"/><path d="M4.5,-5.9 A2.8,5.9 0 0 0 4.5,5.9" fill="none" stroke="#000" stroke-width="2.38"/><path d="M-2.2,3.5 C4,2.7 9.0,1.8 15,1.2" fill="none" stroke="#000" stroke-width="1.05"/></g>
<g transform="translate(728.9,121.2) rotate(-14.0) scale(0.77)"><path d="M14,-3.8000000000000003 L22,-3.4000000000000004 Q24,0 22,3.4000000000000004 L14,3.8000000000000003Z" fill="#2a2a2a" stroke="#000" stroke-width="0.8"/><path d="M17.4,-1.8 l1.5,1 M19.4,1.2 l1.5,-1 M17.4,1.8 l1,0.4" stroke="#bbb" stroke-width="0.6"/><path d="M0,-7.2 C5.625,-6 11.25,-4.0 15,-3.2 L15,3.2 C11.25,4.0 5.625,6 0,7.2 A3.6,7.2 0 0 1 0,-7.2Z" fill="#fff" stroke="#000" stroke-width="1.40" stroke-linejoin="round"/><path d="M4.5,-5.9 A2.8,5.9 0 0 0 4.5,5.9" fill="none" stroke="#000" stroke-width="2.38"/><path d="M-2.2,3.5 C4,2.7 9.0,1.8 15,1.2" fill="none" stroke="#000" stroke-width="1.05"/></g>
<g transform="translate(0,0)">
<path d="M752.3,75.3 C754.9,75.1 757.6,75.7 760.0,76.7 C762.4,77.7 764.8,79.1 766.7,81.5 C768.6,83.9 770.5,88.0 771.5,91.2 C772.5,94.4 772.8,97.6 772.5,100.8 C772.2,104.0 771.1,107.8 769.6,110.4 C768.1,113.0 766.0,114.9 763.8,116.2 C761.6,117.5 758.9,118.3 756.2,118.1 C753.5,117.9 749.9,117.1 747.5,115.2 C745.1,113.3 743.2,110.0 741.7,106.5 C740.2,103.0 739.1,97.8 738.8,94.0 C738.5,90.2 738.8,86.2 739.8,83.5 C740.8,80.8 742.5,79.1 744.6,77.7 C746.7,76.3 749.7,75.5 752.3,75.3Z" fill="#fff" stroke="#000" stroke-width="1.4"/>
<path d="M749.0,78.5 C748.8,79.2 747.9,79.9 747.5,82.5 C747.1,85.1 746.0,90.3 746.5,94.0 C747.0,97.7 748.8,101.7 750.4,104.6 C752.0,107.5 754.3,109.6 756.2,111.3 C758.1,113.0 761.0,114.0 762.0,114.6" fill="none" stroke="#000" stroke-width="1.2"/>
<path d="M747.7,78.7 C747.4,79.4 746.4,80.4 746.0,82.9 C745.5,85.5 744.5,90.3 745.0,94.0 C745.5,97.7 747.1,101.9 748.7,104.9 C750.3,107.9 752.5,110.1 754.6,111.8 C756.6,113.6 759.8,114.7 760.8,115.3" fill="none" stroke="#000" stroke-width="1.0"/>
<path d="M746.4,78.9 C746.1,79.6 744.9,80.8 744.4,83.3 C743.9,85.8 743.1,90.4 743.5,94.0 C743.9,97.6 745.5,102.1 747.0,105.2 C748.6,108.2 750.8,110.6 752.9,112.4 C755.0,114.2 758.6,115.4 759.7,116.0" fill="none" stroke="#000" stroke-width="1.0"/>
<path d="M745.1,79.1 C744.7,79.9 743.4,81.2 742.9,83.7 C742.4,86.2 741.6,90.4 742.0,94.0 C742.4,97.6 743.8,102.3 745.4,105.4 C746.9,108.6 749.1,111.0 751.3,112.9 C753.5,114.8 757.3,116.1 758.5,116.7" fill="none" stroke="#000" stroke-width="1.0"/>
<path d="M743.8,79.3 C743.4,80.1 741.9,81.7 741.3,84.1 C740.8,86.6 740.1,90.4 740.5,94.0 C740.9,97.6 742.2,102.5 743.7,105.7 C745.2,109.0 747.4,111.5 749.6,113.5 C751.9,115.4 756.1,116.7 757.4,117.4" fill="none" stroke="#000" stroke-width="1.0"/>
<path d="M753.5,84.0 C753.1,84.3 754.1,84.2 754.5,86.0 C754.9,87.8 755.2,91.9 755.8,94.7 C756.4,97.5 757.2,100.6 758.0,102.6 C758.8,104.6 759.8,106.4 760.6,106.5 C761.4,106.6 762.6,103.8 763.0,103.0 C763.4,102.2 763.3,103.1 763.2,101.7 C763.1,100.3 762.7,97.2 762.3,94.7 C761.9,92.2 761.5,88.8 760.6,87.0 C759.7,85.2 758.2,84.5 757.0,84.0 C755.8,83.5 753.9,83.7 753.5,84.0Z" fill="#2e2e2e" stroke="#000" stroke-width="1.0"/>
<path d="M757.2,89 L759.6,96 M758,95 L760.5,101.5 M756.5,92 L758.5,99.5" stroke="#bbb" stroke-width="0.6"/>
<path d="M760.6,87.0 C760.9,88.3 761.9,92.2 762.3,94.7 C762.7,97.2 763.4,99.8 763.2,101.7 C763.0,103.6 761.4,105.3 761.0,106.0" fill="none" stroke="#000" stroke-width="1.2"/>
<path d="M741.0,82.0 C742.0,81.7 744.9,80.2 746.7,80.0 C748.5,79.8 750.6,80.0 751.9,80.8 C753.2,81.6 753.9,82.7 754.5,85.0 C755.1,87.3 755.2,91.8 755.8,94.7 C756.4,97.6 757.2,100.6 758.0,102.6 C758.8,104.6 760.2,105.8 760.6,106.5" fill="none" stroke="#000" stroke-width="1.7"/>
<path d="M759.7,88.7 L765.8,84.3" stroke="#000" stroke-width="1.8"/>
<path d="M761.5,105.2 L770.2,103.4" stroke="#000" stroke-width="1.3"/>
</g>
<g transform="translate(819,76.3) rotate(-18.7) scale(0.95)"><g transform="translate(-31.8,0.0) rotate(0.0) scale(0.82)"><path d="M0,-7.2 C6.310975609756099,-6 12.621951219512198,-3.4000000000000004 16.82926829268293,-2.6 L16.82926829268293,2.6 C12.621951219512198,3.4000000000000004 6.310975609756099,6 0,7.2 A3.6,7.2 0 0 1 0,-7.2Z" fill="#fff" stroke="#000" stroke-width="1.60" stroke-linejoin="round"/><path d="M4.5,-5.9 A2.8,5.9 0 0 0 4.5,5.9" fill="none" stroke="#000" stroke-width="2.72"/><path d="M-2.2,3.5 C4,2.7 10.097560975609758,1.8 16.82926829268293,1.2" fill="none" stroke="#000" stroke-width="1.20"/></g><circle cx="-14" cy="0" r="2.9" fill="#111"/><path d="M-12,-3.5 L-9.5,-6 L-9.5,6 L-12,3.5Z" fill="#111"/><path d="M-9.3,-3.5 C-8,-7 -6,-8.6 -3,-9.4 C0,-10.2 3,-10.4 5,-10.3 A6.3,10.3 0 0 1 5,10.3 C2,10.5 -3,10 -5.5,9 C-8,7.5 -9.5,4 -9.3,-3.5Z" fill="#fff" stroke="#000" stroke-width="1.4"/><path d="M-7.5,-7.6 A3.2,7.6 0 0 0 -7.5,7.6" fill="none" stroke="#000" stroke-width="1.0"/><path d="M-5.6,-8.3 A3.2,8.3 0 0 0 -5.6,8.3" fill="none" stroke="#000" stroke-width="1.0"/><path d="M-3.7,-8.9 A3.2,8.9 0 0 0 -3.7,8.9" fill="none" stroke="#000" stroke-width="1.0"/><path d="M-1.8,-9.4 A3.2,9.4 0 0 0 -1.8,9.4" fill="none" stroke="#000" stroke-width="1.0"/><path d="M0.1,-9.8 A3.2,9.8 0 0 0 0.1,9.8" fill="none" stroke="#000" stroke-width="1.0"/><ellipse cx="7.4" cy="0" rx="3.9" ry="9.2" fill="#161616"/><path d="M2.6,-9.6 A4.4,9.6 0 0 0 2.4,9.4" fill="none" stroke="#000" stroke-width="1.0"/><ellipse cx="7.6" cy="-0.8" rx="1.5" ry="2.5" fill="#bbb"/><path d="M10,0 L15.5,0" stroke="#000" stroke-width="4" stroke-linecap="round"/><path d="M10.5,0 L14.5,0" stroke="#fff" stroke-width="1.6"/></g>
<g transform="translate(941.3,55) rotate(-15) scale(0.93)"><g transform="translate(-34.0,0.0) rotate(0.0) scale(0.84)"><path d="M0,-7.2 C7.142857142857142,-6 14.285714285714285,-3.4000000000000004 19.047619047619047,-2.6 L19.047619047619047,2.6 C14.285714285714285,3.4000000000000004 7.142857142857142,6 0,7.2 A3.6,7.2 0 0 1 0,-7.2Z" fill="#fff" stroke="#000" stroke-width="1.60" stroke-linejoin="round"/><path d="M4.5,-5.9 A2.8,5.9 0 0 0 4.5,5.9" fill="none" stroke="#000" stroke-width="2.72"/><path d="M-2.2,3.5 C4,2.7 11.428571428571429,1.8 19.047619047619047,1.2" fill="none" stroke="#000" stroke-width="1.20"/></g><circle cx="-14" cy="0" r="2.9" fill="#111"/><path d="M-12,-3.5 L-9.5,-6 L-9.5,6 L-12,3.5Z" fill="#111"/><path d="M-9.3,-3.5 C-8,-7 -6,-8.6 -3,-9.4 C0,-10.2 3,-10.4 5,-10.3 A6.3,10.3 0 0 1 5,10.3 C2,10.5 -3,10 -5.5,9 C-8,7.5 -9.5,4 -9.3,-3.5Z" fill="#fff" stroke="#000" stroke-width="1.4"/><path d="M-7.5,-7.6 A3.2,7.6 0 0 0 -7.5,7.6" fill="none" stroke="#000" stroke-width="1.0"/><path d="M-5.6,-8.3 A3.2,8.3 0 0 0 -5.6,8.3" fill="none" stroke="#000" stroke-width="1.0"/><path d="M-3.7,-8.9 A3.2,8.9 0 0 0 -3.7,8.9" fill="none" stroke="#000" stroke-width="1.0"/><path d="M-1.8,-9.4 A3.2,9.4 0 0 0 -1.8,9.4" fill="none" stroke="#000" stroke-width="1.0"/><path d="M0.1,-9.8 A3.2,9.8 0 0 0 0.1,9.8" fill="none" stroke="#000" stroke-width="1.0"/><ellipse cx="7.4" cy="0" rx="3.9" ry="9.2" fill="#161616"/><path d="M2.6,-9.6 A4.4,9.6 0 0 0 2.4,9.4" fill="none" stroke="#000" stroke-width="1.0"/><ellipse cx="7.6" cy="-0.8" rx="1.5" ry="2.5" fill="#bbb"/><path d="M10,0 L15.5,0" stroke="#000" stroke-width="4" stroke-linecap="round"/><path d="M10.5,0 L14.5,0" stroke="#fff" stroke-width="1.6"/></g>
<text class="b" x="602.8" y="37">600 km</text>
<text class="b" x="603.2" y="404.7">20 km</text>

<rect class="box" x="368.5" y="95.5" width="194" height="19" rx="9.5"/>
<text class="t" x="378" y="111.3">Early fairing detachment</text>

<rect class="box" x="688.5" y="150.6" width="256.5" height="37.3" rx="18.6"/>
<text class="t" x="708.2" y="166.5">Payload inserted into desired</text>
<text class="t" x="708.6" y="184.9">orbit and upper stage de-orbit</text>

<rect class="box" x="491.5" y="268" width="150" height="18.8" rx="9.4"/>
<text class="t" x="501.9" y="283.7">Stages separation</text>

<rect class="box" x="274.5" y="338.4" width="266" height="18.8" rx="9.4"/>
<text class="t" x="284.6" y="354.2">Engine ignition and launcher climb</text>

<rect class="box" x="157.3" y="455.8" width="192.2" height="18.7" rx="9.35"/>
<text class="t" x="167.3" y="472.1">Balloon ascent to 20 km</text>

</svg>
</body></html>
